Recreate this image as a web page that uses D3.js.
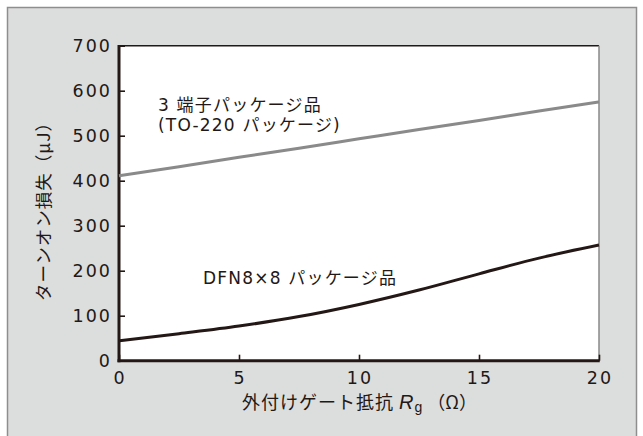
<!DOCTYPE html>
<html>
<head>
<meta charset="utf-8">
<script src="https://cdn.jsdelivr.net/npm/d3@7"></script>
<style>
  html, body { margin: 0; padding: 0; background: #fff; }
  svg { display: block; }
</style>
</head>
<body>
<svg id="chart" width="643" height="436"></svg>
<script>
// Turn-on loss vs. external gate resistance
const rg = [0, 2.5, 5, 7.5, 10, 12.5, 15, 17.5, 20];
const lossTO220 = [411, 431, 452, 472, 493, 514, 534, 555, 575];
const lossDFN = [44, 60, 77, 98, 125, 157, 193, 228, 257];
const xTicks = [0, 5, 10, 15, 20];
const yTicks = [0, 100, 200, 300, 400, 500, 600, 700];

const ink = "#231815";
const jp = "'Noto Sans CJK JP', 'Noto Sans', sans-serif";
const mixed = "'DejaVu Sans', 'Noto Sans CJK JP', sans-serif";
const num = "'DejaVu Sans', sans-serif";

const svg = d3.select("#chart");

// panel
svg.append("rect").attr("x", 0).attr("y", 0).attr("width", 643).attr("height", 436).attr("fill", "#fff");
svg.append("rect")
  .attr("x", 7.5).attr("y", 7.5).attr("width", 629).attr("height", 440)
  .attr("fill", "#dcdddd").attr("stroke", "#8e8e8e").attr("stroke-width", 1.5);

const x = d3.scaleLinear().domain([0, 20]).range([119, 599]);
const y = d3.scaleLinear().domain([0, 700]).range([360.7, 45.7]);

// plot area
svg.append("rect")
  .attr("x", x(0)).attr("y", y(700))
  .attr("width", x(20) - x(0)).attr("height", y(0) - y(700))
  .attr("fill", "#fff");

// frame: top (dark, thin) and right (grey, thin)
svg.append("line").attr("x1", x(0)).attr("x2", x(20)).attr("y1", y(700)).attr("y2", y(700))
  .attr("stroke", ink).attr("stroke-width", 1.5);
svg.append("line").attr("x1", x(20)).attr("x2", x(20)).attr("y1", y(700)).attr("y2", y(0))
  .attr("stroke", "#888").attr("stroke-width", 1.5);

// axes with inward ticks
const yAxis = svg.append("g").attr("transform", `translate(${x(0)},0)`)
  .call(d3.axisRight(y).tickValues(yTicks).tickSize(6).tickFormat(""));
const xAxis = svg.append("g").attr("transform", `translate(0,${y(0)})`)
  .call(d3.axisTop(x).tickValues(xTicks).tickSize(6).tickFormat(""));
[yAxis, xAxis].forEach(g => {
  g.select(".domain").remove();
  g.selectAll(".tick line").attr("stroke", ink).attr("stroke-width", 1.6);
});
svg.append("line").attr("x1", x(0)).attr("x2", x(0)).attr("y1", y(700) - 0.75).attr("y2", y(0) + 1.5)
  .attr("stroke", ink).attr("stroke-width", 3);
svg.append("line").attr("x1", x(0) - 1.5).attr("x2", x(20) + 0.75).attr("y1", y(0)).attr("y2", y(0))
  .attr("stroke", ink).attr("stroke-width", 3);

// tick labels
svg.append("g").selectAll("text").data(yTicks).join("text")
  .attr("x", 112).attr("y", d => y(d)).attr("dy", "0.36em")
  .attr("text-anchor", "end")
  .attr("font-family", num).attr("font-size", 17.5).attr("letter-spacing", 2)
  .attr("fill", ink).text(d => d);
svg.append("g").selectAll("text").data(xTicks).join("text")
  .attr("x", d => x(d) + 1).attr("y", 384)
  .attr("text-anchor", "middle")
  .attr("font-family", num).attr("font-size", 17.5).attr("letter-spacing", 2)
  .attr("fill", ink).text(d => d);

// axis titles
const xt = svg.append("text").attr("x", 242).attr("y", 409)
  .attr("font-family", jp).attr("font-size", 18).attr("fill", ink);
xt.append("tspan").attr("letter-spacing", 1).text("外付けゲート抵抗 ");
xt.append("tspan").attr("font-family", "'Liberation Sans', sans-serif").attr("font-style", "italic").attr("font-size", 20).text("R");
xt.append("tspan").attr("font-family", "'Liberation Sans', sans-serif").attr("font-size", 14).attr("dy", 3).attr("dx", 1).text("g");
xt.append("tspan").attr("dy", -3).attr("dx", 5).text("（Ω）");

svg.append("text")
  .attr("transform", "translate(50,207) rotate(-90)")
  .attr("text-anchor", "middle")
  .attr("font-family", jp).attr("font-size", 17.5).attr("letter-spacing", 1).attr("fill", ink)
  .text("ターンオン損失（μJ）");

// curves
const line = d3.line().x((d, i) => x(rg[i])).y(d => y(d)).curve(d3.curveMonotoneX);
svg.append("path").datum(lossTO220).attr("d", line)
  .attr("fill", "none").attr("stroke", "#8a8a8a").attr("stroke-width", 3);
svg.append("path").datum(lossDFN).attr("d", line)
  .attr("fill", "none").attr("stroke", ink).attr("stroke-width", 3);

// series labels
const lab = svg.append("g").attr("font-family", mixed).attr("font-size", 17)
  .attr("letter-spacing", 1.2).attr("fill", ink);
lab.append("text").attr("x", 158).attr("y", 111).text("3 端子パッケージ品");
lab.append("text").attr("x", 158).attr("y", 131).text("(TO-220 パッケージ)");
lab.append("text").attr("x", 203).attr("y", 284).text("DFN8×8 パッケージ品");
</script>
</body>
</html>
